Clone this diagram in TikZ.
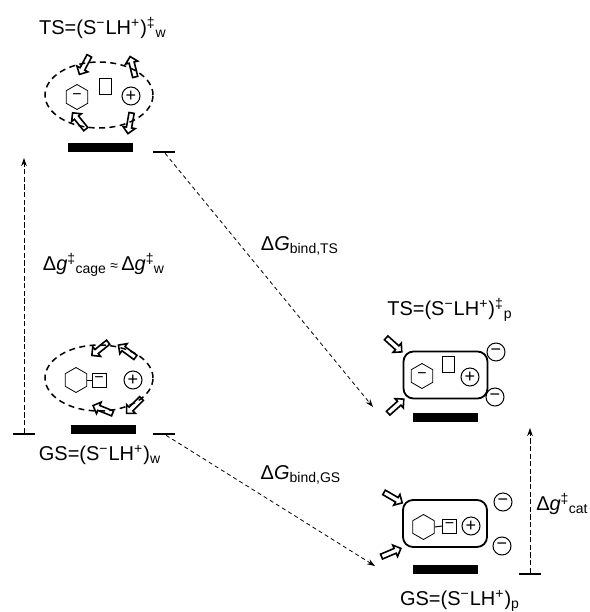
\documentclass[tikz,border=0pt]{standalone}
\usepackage{fontspec}
\setmainfont{Liberation Sans}
\usetikzlibrary{arrows.meta,shapes.geometric,shapes.arrows}

\begin{document}
\begin{tikzpicture}[x=0.5pt,y=-0.5pt,font=\fontsize{10}{12}\selectfont,
  >={Stealth[length=4pt,width=2.8pt]},
  cage/.style={ellipse,draw,line width=0.75pt,dash pattern=on 3pt off 2.2pt,
               minimum width=54pt,minimum height=33pt,inner sep=0pt},
  pore/.style={draw,rounded corners=5pt,line width=0.9pt,inner sep=0pt,
               minimum width=42pt,minimum height=23.5pt},
  hx/.style={regular polygon,regular polygon sides=6,shape border rotate=30,draw,
             line width=0.4pt,minimum size=12.5pt,inner sep=0pt,font=\fontsize{8}{8}\selectfont},
  sq/.style={draw,line width=0.4pt,inner sep=0pt,minimum width=6pt,minimum height=8pt,
             font=\fontsize{8}{8}\selectfont},
  ch/.style={circle,draw,line width=0.5pt,minimum size=9pt,inner sep=0pt,
             font=\fontsize{9}{9}\selectfont},
  lvl/.style={fill=black,minimum width=32.5pt,minimum height=4.5pt,inner sep=0pt},
  tk/.style={fill=black,minimum width=11pt,minimum height=0.9pt,inner sep=0pt},
  blk/.style={single arrow,draw,line width=0.8pt,inner sep=0.9pt,
              single arrow head extend=1.8pt,minimum height=10.5pt},
  bind/.style={->,line width=0.4pt,dash pattern=on 2pt off 1.6pt},
  rise/.style={->,line width=0.5pt,dash pattern=on 2.6pt off 1.2pt}]
  \useasboundingbox (0,0) rectangle (590,612);

  % TS in water
  \node (tsw) at (103,28) {TS=(S\textsuperscript{−}LH\textsuperscript{+})\textsuperscript{‡}\textsubscript{w}};
  \node[cage,minimum width=54pt] (cw1) at (99,95) {};
  \node[hx] (hw1) at (77,97) {−};
  \node[sq] (qw1) at (105,86) {};
  \node[ch] (pw1) at (131,96) {+};
  \node[blk,rotate=242] at (85,64) {};
  \node[blk,rotate=104] at (133,68) {};
  \node[blk,rotate=129] at (80,122) {};
  \node[blk,rotate=260] at (130,122) {};
  \node[lvl] (lw1) at (100,147.5) {};
  \node[tk] (kw1) at (164,152) {};

  % GS in water
  \node[cage] (cw0) at (99,378) {};
  \node[hx] (hw0) at (76,380) {};
  \node[sq,minimum width=7pt,minimum height=7pt] (qw0) at (99,380) {−};
  \draw[line width=0.5pt] (hw0.east) -- (qw0.west);
  \node[ch] (pw0) at (133,380) {+};
  \node[blk,rotate=219] at (101,348) {};
  \node[blk,rotate=144] at (128,352) {};
  \node[blk,rotate=225] at (135,405) {};
  \node[blk,rotate=158] at (104,410) {};
  \node[lvl] (lw0) at (103,429) {};
  \node[tk] (kw0a) at (24,434) {};
  \node[tk] (kw0) at (164,434) {};
  \node (gsw) at (100,455) {GS=(S\textsuperscript{−}LH\textsuperscript{+})\textsubscript{w}};

  % TS in the pocket
  \node (tsp) at (450,310) {TS=(S\textsuperscript{−}LH\textsuperscript{+})\textsuperscript{‡}\textsubscript{p}};
  \node[pore] (bp1) at (445.5,375) {};
  \node[hx] (hp1) at (422,376) {−};
  \node[sq] (qp1) at (448.5,364) {};
  \node[ch] (pp1) at (470,377) {+};
  \node[ch] (ma1) at (496,352) {−};
  \node[ch] (mb1) at (495,397) {−};
  \node[blk,rotate=-42] (ia1) at (393,344) {};
  \node[blk,rotate=42] (ib1) at (395,407) {};
  \node[lvl] (lp1) at (445,417) {};

  % GS in the pocket
  \node[pore] (bp0) at (445,523.5) {};
  \node[hx] (hp0) at (423.5,527) {};
  \node[sq,minimum width=7pt,minimum height=7pt] (qp0) at (449.5,526) {−};
  \draw[line width=0.5pt] (hp0.east) -- (qp0.west);
  \node[ch] (pp0) at (471,526) {+};
  \node[ch] (ma0) at (503,502) {−};
  \node[ch] (mb0) at (502,546) {−};
  \node[blk,rotate=-30] (ia0) at (392,497) {};
  \node[blk,rotate=23] (ib0) at (390,553) {};
  \node[lvl] (lp0) at (445,569.5) {};
  \node[tk] (kp0) at (530,574) {};
  \node (gsp) at (460,601) {GS=(S\textsuperscript{−}LH\textsuperscript{+})\textsubscript{p}};

  % free energy arrows
  \coordinate (ew) at (24,158);
  \coordinate (ep) at (530,428);
  \coordinate (et) at (373,407);
  \coordinate (eg) at (375,566);
  \draw[rise] (kw0a) -- (ew);
  \draw[rise] (kp0) -- (ep);
  \draw[bind] (kw1) -- (et);
  \draw[bind] (kw0) -- (eg);

  \node (dgw) at (104,265) {Δ\textit{g}\textsuperscript{‡}\kern-0.3pt\textsubscript{cage}\,{\fontsize{7}{7}\selectfont≈}\,Δ\textit{g}\textsuperscript{‡}\kern-0.3pt\textsubscript{w}};
  \node (dbt) at (300,246) {Δ\textit{G}\textsubscript{bind,TS}};
  \node (dbg) at (301,475) {Δ\textit{G}\textsubscript{bind,GS}};
  \node[anchor=east,inner sep=0pt] (dgc) at (589,504) {Δ\textit{g}\textsuperscript{‡}\kern-0.3pt\textsubscript{cat}};
\end{tikzpicture}
\end{document}
